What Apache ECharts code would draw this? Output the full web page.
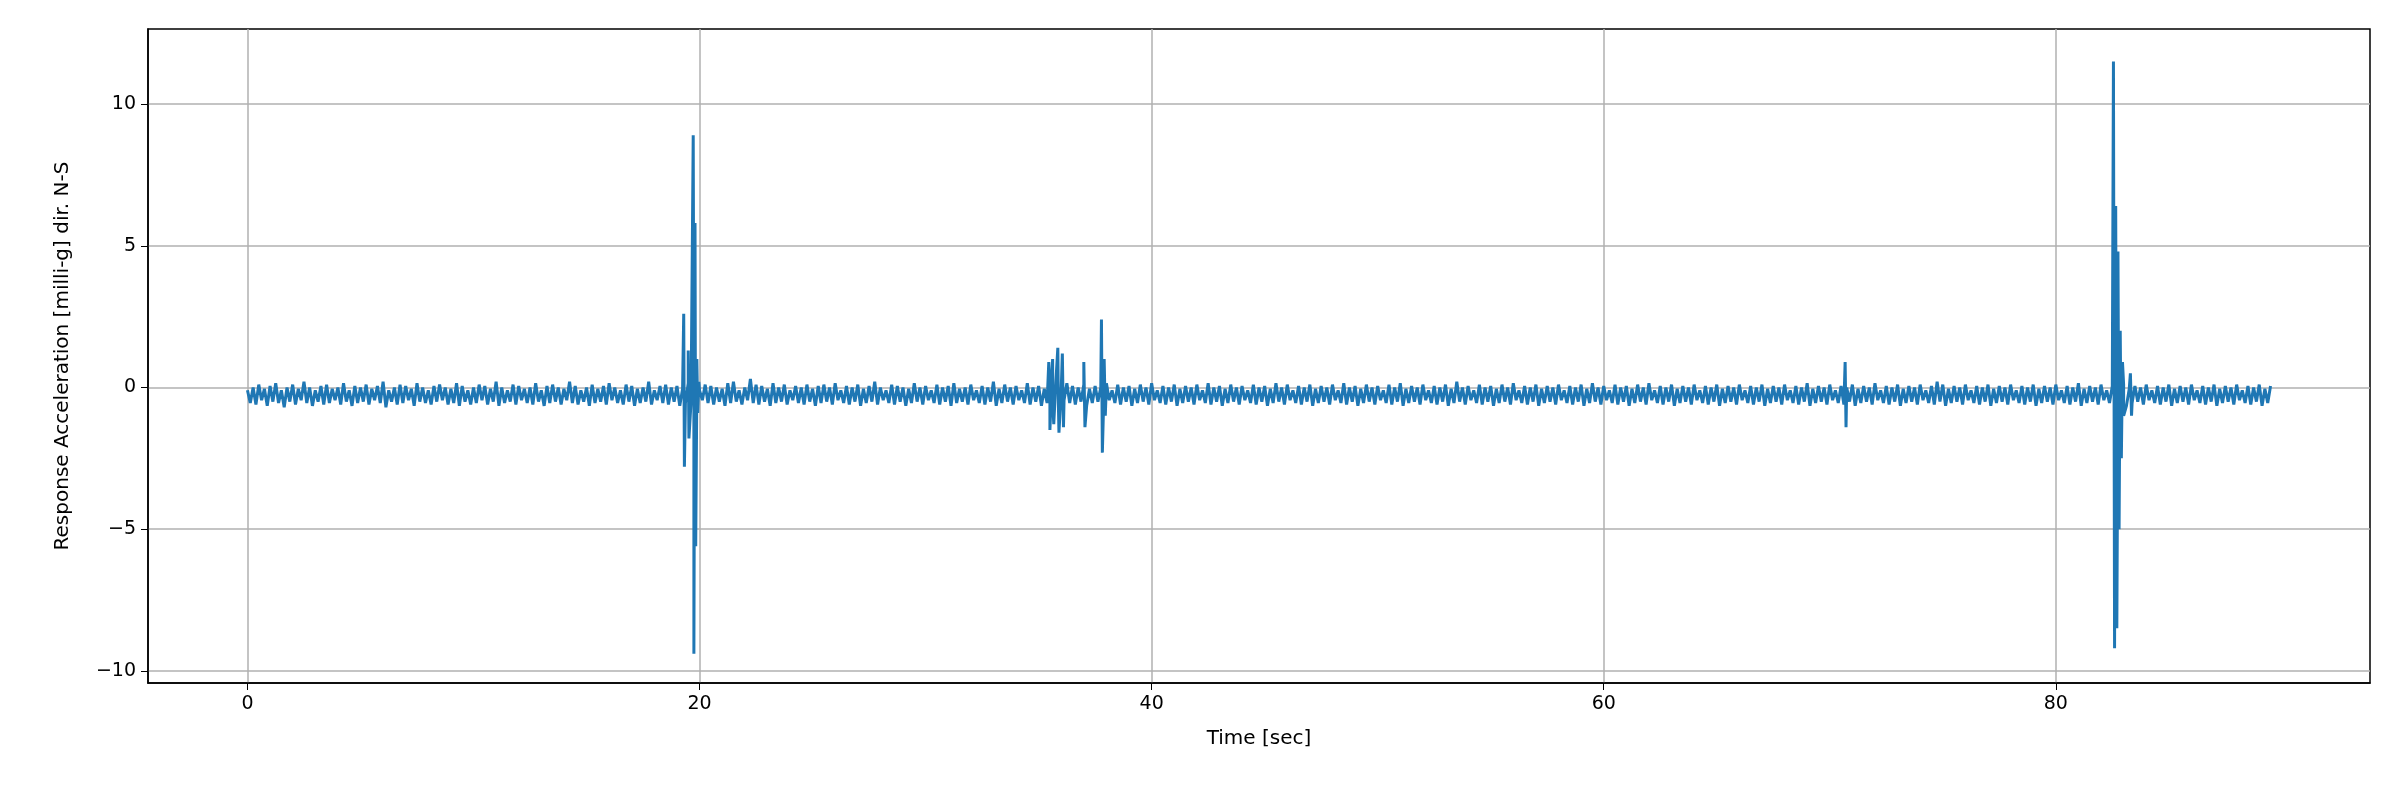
<!DOCTYPE html>
<html><head><meta charset="utf-8">
<script src="https://cdn.jsdelivr.net/npm/echarts@6/dist/echarts.min.js"></script>
<style>html,body{margin:0;background:#fff}#c{width:2400px;height:800px}</style>
</head><body><div id="c"></div>
<script>
// upper swings of the noise, every 0.25 s from 0
const step = 0.25;
const upperValues = [
-0.1,0.0,0.1,-0.05,0.05,0.15,-0.1,0.0,0.1,-0.05,0.2,0.0,-0.1,0.05,0.1,-0.05,0.0,0.15,-0.1,0.05,
0.0,0.1,-0.05,0.05,0.2,-0.1,0.0,0.1,0.05,-0.05,0.15,0.0,-0.1,0.05,0.1,0.0,-0.05,0.15,0.05,-0.1,
0.0,0.1,0.05,-0.05,0.2,0.0,-0.1,0.1,0.05,-0.05,0.0,0.15,-0.1,0.05,0.1,0.0,-0.05,0.2,0.05,-0.1,
0.0,0.1,-0.05,0.05,0.15,0.0,-0.1,0.1,0.05,-0.05,0.0,0.2,-0.1,0.05,0.1,0.0,0.05,-0.05,0.15,0.0,
-0.1,0.1,0.05,0.0,-0.05,0.15,0.2,-0.1,0.0,0.3,0.1,0.05,-0.05,0.15,0.0,0.1,-0.1,0.05,0.0,0.1,
-0.05,0.05,0.1,0.0,0.15,-0.1,0.05,0.0,0.1,-0.05,0.05,0.2,0.0,-0.1,0.1,0.05,0.0,-0.05,0.15,0.0,
0.05,-0.1,0.1,0.0,0.05,0.15,-0.05,0.0,0.1,-0.1,0.05,0.0,0.2,-0.05,0.1,0.0,0.05,-0.1,0.15,0.0,
0.05,-0.05,0.1,0.0,-0.1,0.15,0.05,0.0,0.1,-0.05,0.05,0.0,0.15,-0.1,0.1,0.0,0.05,-0.05,0.1,0.0,
0.15,-0.1,0.05,0.0,0.1,-0.05,0.05,0.0,0.1,-0.1,0.15,0.0,0.05,-0.05,0.1,0.0,0.05,-0.1,0.1,0.0,
0.05,-0.05,0.15,0.0,0.1,-0.1,0.05,0.0,0.1,-0.05,0.05,0.0,0.1,-0.1,0.15,0.0,0.05,-0.05,0.1,0.0,
0.05,-0.1,0.1,0.0,0.15,-0.05,0.05,0.0,0.1,-0.1,0.05,0.0,0.1,-0.05,0.2,0.0,0.05,-0.1,0.1,0.0,
0.05,-0.05,0.1,0.0,0.15,-0.1,0.05,0.0,0.1,-0.05,0.05,0.0,0.1,-0.1,0.05,0.0,0.1,-0.05,0.15,0.0,
0.05,-0.1,0.1,0.0,0.05,-0.05,0.1,0.0,0.15,-0.1,0.05,0.0,0.1,-0.05,0.05,0.0,0.1,-0.1,0.05,0.0,
0.1,-0.05,0.05,0.0,0.1,-0.1,0.05,0.0,0.1,-0.05,0.05,0.0,0.1,-0.1,0.05,0.0,0.15,-0.05,0.05,0.0,
0.1,-0.1,0.05,0.0,0.1,-0.05,0.05,0.0,0.15,-0.1,0.05,0.0,0.1,-0.05,0.05,0.0,0.1,-0.1,0.05,0.2,
0.1,-0.05,0.05,0.0,0.1,-0.1,0.05,0.0,0.1,-0.05,0.05,0.0,0.1,-0.1,0.05,0.0,0.1,-0.05,0.05,0.0,
0.1,-0.1,0.05,0.0,0.15,-0.05,0.05,0.0,0.1,-0.1,0.05,0.0,0.1,-0.05,0.05,0.0,0.1,-0.1,0.05,0.0,
0.1,-0.05,0.05,0.0,0.1,-0.1,0.05,0.0,0.1,-0.05,0.05,0.0,0.1,-0.1,0.05,0.0,0.1,-0.05,0.05
];
// lower swings of the noise, every 0.25 s from 0.125
const lowerValues = [
-0.55,-0.6,-0.45,-0.65,-0.5,-0.55,-0.7,-0.5,-0.6,-0.45,-0.55,-0.65,-0.5,-0.6,-0.55,-0.45,-0.6,-0.5,-0.65,-0.55,
-0.5,-0.6,-0.45,-0.55,-0.7,-0.5,-0.6,-0.55,-0.45,-0.65,-0.5,-0.55,-0.6,-0.5,-0.45,-0.6,-0.55,-0.65,-0.5,-0.6,
-0.55,-0.45,-0.6,-0.5,-0.65,-0.55,-0.5,-0.6,-0.45,-0.55,-0.6,-0.5,-0.65,-0.55,-0.5,-0.6,-0.45,-0.55,-0.6,-0.5,
-0.65,-0.55,-0.5,-0.6,-0.45,-0.55,-0.6,-0.5,-0.65,-0.55,-0.5,-0.6,-0.45,-0.55,-0.6,-0.5,-0.65,-0.55,-0.5,-0.6,
-0.45,-0.55,-0.6,-0.5,-0.65,-0.55,-0.5,-0.6,-0.45,-0.55,-0.6,-0.5,-0.65,-0.55,-0.5,-0.6,-0.45,-0.55,-0.6,-0.5,
-0.65,-0.55,-0.5,-0.6,-0.45,-0.55,-0.6,-0.5,-0.65,-0.55,-0.5,-0.6,-0.45,-0.55,-0.6,-0.5,-0.65,-0.55,-0.5,-0.6,
-0.45,-0.55,-0.6,-0.5,-0.65,-0.55,-0.5,-0.6,-0.45,-0.55,-0.6,-0.5,-0.65,-0.55,-0.5,-0.6,-0.45,-0.55,-0.6,-0.5,
-0.65,-0.55,-0.5,-0.6,-0.45,-0.55,-0.6,-0.5,-0.65,-0.55,-0.5,-0.6,-0.45,-0.55,-0.6,-0.5,-0.65,-0.55,-0.5,-0.6,
-0.45,-0.55,-0.6,-0.5,-0.65,-0.55,-0.5,-0.6,-0.45,-0.55,-0.6,-0.5,-0.65,-0.55,-0.5,-0.6,-0.45,-0.55,-0.6,-0.5,
-0.65,-0.55,-0.5,-0.6,-0.45,-0.55,-0.6,-0.5,-0.65,-0.55,-0.5,-0.6,-0.45,-0.55,-0.6,-0.5,-0.65,-0.55,-0.5,-0.6,
-0.45,-0.55,-0.6,-0.5,-0.65,-0.55,-0.5,-0.6,-0.45,-0.55,-0.6,-0.5,-0.65,-0.55,-0.5,-0.6,-0.45,-0.55,-0.6,-0.5,
-0.65,-0.55,-0.5,-0.6,-0.45,-0.55,-0.6,-0.5,-0.65,-0.55,-0.5,-0.6,-0.45,-0.55,-0.6,-0.5,-0.65,-0.55,-0.5,-0.6,
-0.45,-0.55,-0.6,-0.5,-0.65,-0.55,-0.5,-0.6,-0.45,-0.55,-0.6,-0.5,-0.65,-0.55,-0.5,-0.6,-0.45,-0.55,-0.6,-0.5,
-0.65,-0.55,-0.5,-0.6,-0.45,-0.55,-0.6,-0.5,-0.65,-0.55,-0.5,-0.6,-0.45,-0.55,-0.6,-0.5,-0.65,-0.55,-0.5,-0.6,
-0.45,-0.55,-0.6,-0.5,-0.65,-0.55,-0.5,-0.6,-0.45,-0.55,-0.6,-0.5,-0.65,-0.55,-0.5,-0.6,-0.45,-0.55,-0.6,-0.5,
-0.65,-0.55,-0.5,-0.6,-0.45,-0.55,-0.6,-0.5,-0.65,-0.55,-0.5,-0.6,-0.45,-0.55,-0.6,-0.5,-0.65,-0.55,-0.5,-0.6,
-0.45,-0.55,-0.6,-0.5,-0.65,-0.55,-0.5,-0.6,-0.45,-0.55,-0.6,-0.5,-0.65,-0.55,-0.5,-0.6,-0.45,-0.55,-0.6,-0.5,
-0.65,-0.55,-0.5,-0.6,-0.45,-0.55,-0.6,-0.5,-0.65,-0.55,-0.5,-0.6,-0.45,-0.55,-0.6,-0.5,-0.65,-0.55
];
// burst events: time, value
const eventTimes = [19.30,19.33,19.50,19.53,19.72,19.75,19.80,19.83,19.88,19.92,19.97,
35.45,35.50,35.62,35.67,35.85,35.90,36.05,36.10,37.00,37.05,37.78,37.82,37.90,37.95,
70.68,70.72,
82.55,82.60,82.65,82.70,82.75,82.80,82.85,82.90,82.95,83.00,83.30,83.35];
const eventValues = [2.6,-2.8,1.3,-1.8,8.9,-9.4,5.8,-5.6,1.0,-0.9,0.2,
0.9,-1.5,1.0,-1.3,1.4,-1.6,1.2,-1.4,0.9,-1.4,2.4,-2.3,1.0,-1.0,
0.9,-1.4,
11.5,-9.2,6.4,-8.5,4.8,-5.0,2.0,-2.5,0.9,-1.0,0.5,-1.0];
const xTicks = [0,20,40,60,80];
const yTicks = [-10,-5,0,5,10];

const pts = upperValues.map((v,i)=>[i*step, v]);
lowerValues.forEach((v,i)=>pts.push([i*step+step/2, v]));
eventTimes.forEach((t,i)=>pts.push([t, eventValues[i]]));
pts.sort((a,b)=>a[0]-b[0]);

const chart = echarts.init(document.getElementById('c'));
const ff = 'DejaVu Sans';
const lbl = {fontFamily:ff,fontSize:19,color:'#000',margin:12};
chart.setOption({
  animation:false,
  grid:{left:148,right:30,top:29,bottom:117,show:true,borderColor:'#000',borderWidth:1.5,backgroundColor:'transparent'},
  xAxis:{type:'value',min:-4.4,max:93.9,
    name:'Time [sec]',nameLocation:'middle',nameGap:46,nameTextStyle:{fontFamily:ff,fontSize:20,color:'#000'},
    axisLine:{show:true,onZero:false,lineStyle:{color:'#000',width:1.5}},
    axisTick:{show:true,length:7,customValues:xTicks,lineStyle:{color:'#000'}},
    axisLabel:Object.assign({customValues:xTicks},lbl),
    splitLine:{show:true,lineStyle:{color:'#b0b0b0',width:1.5}}},
  yAxis:{type:'value',min:-10.43,max:12.65,
    name:'Response Acceleration [milli-g] dir. N-S',nameLocation:'middle',nameGap:75,nameTextStyle:{fontFamily:ff,fontSize:20,color:'#000'},
    axisLine:{show:true,onZero:false,lineStyle:{color:'#000',width:1.5}},
    axisTick:{show:true,length:7,customValues:yTicks,lineStyle:{color:'#000'}},
    axisLabel:Object.assign({customValues:yTicks,formatter:v=>String(v).replace('-','\u2212')},lbl),
    splitLine:{show:true,lineStyle:{color:'#b0b0b0',width:1.5}}},
  series:[{type:'line',data:pts,showSymbol:false,lineStyle:{color:'#1f77b4',width:3}}]
});
</script></body></html>
